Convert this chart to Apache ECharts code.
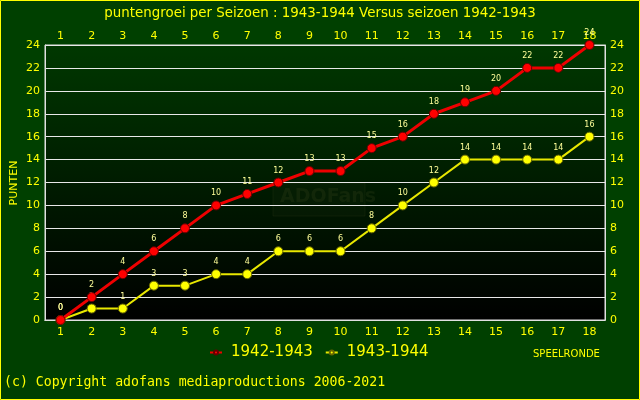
<!DOCTYPE html>
<html><head><meta charset="utf-8">
<script src="https://cdn.jsdelivr.net/npm/echarts@6/dist/echarts.min.js"></script>
<style>html,body{margin:0;padding:0;background:#004000}#c{width:640px;height:400px}</style>
</head><body><div id="c"></div>
<script>
const rounds = ['1','2','3','4','5','6','7','8','9','10','11','12','13','14','15','16','17','18'];
const s4243 = [0,2,4,6,8,10,11,12,13,13,15,16,18,19,20,22,22,24];
const s4344 = [0,1,1,3,3,4,4,6,6,6,8,10,12,14,14,14,14,16];
const name4243 = '1942-1943';
const name4344 = '1943-1944';
const yName = 'PUNTEN';

const chart = echarts.init(document.getElementById('c'), null, {renderer:'canvas'});
const yel = '#ffff00';
const lbl = {show:true, position:'top', distance:3, color:'#ffff99', fontSize:8, fontFamily:'DejaVu Sans'};
chart.setOption({
  animation:false,
  backgroundColor:'#004000',
  title:{text:'puntengroei per Seizoen : 1943-1944 Versus seizoen 1942-1943', left:'center', top:2,
    textStyle:{color:yel, fontSize:13.4, fontWeight:'normal', fontFamily:'DejaVu Sans'}},
  grid:{left:45, right:35, top:45, bottom:80, outerBoundsMode:'none', containLabel:false, show:true, borderColor:'#e0e0e0', borderWidth:1,
    backgroundColor:{type:'linear', x:0, y:0, x2:0, y2:1, colorStops:[{offset:0,color:'#003800'},{offset:1,color:'#000000'}]}},
  legend:{top:345, left:209, padding:0, itemGap:12, itemWidth:12, itemHeight:5,
    textStyle:{color:yel, fontSize:15, fontFamily:'DejaVu Sans', padding:[0,0,0,4]},
    data:[name4243, name4344]},
  xAxis:[
    {type:'category', data:rounds, position:'bottom', axisLine:{show:true, lineStyle:{color:'#e0e0e0'}}, axisTick:{show:false},
     axisLabel:{color:yel, fontSize:11, fontFamily:'DejaVu Sans', margin:7}},
    {type:'category', data:rounds, position:'top', axisLine:{show:true, lineStyle:{color:'#e0e0e0'}}, axisTick:{show:false},
     axisLabel:{color:yel, fontSize:11, fontFamily:'DejaVu Sans', margin:3}}
  ],
  yAxis:[
    {type:'value', min:0, max:24, interval:2, position:'left',
     axisLine:{show:true, lineStyle:{color:'#e0e0e0'}}, axisTick:{show:false},
     axisLabel:{color:yel, fontSize:11, fontFamily:'DejaVu Sans', margin:5},
     splitLine:{show:true, lineStyle:{color:'#e8e8e8', width:1}}},
    {type:'value', min:0, max:24, interval:2, position:'right',
     axisLine:{show:true, lineStyle:{color:'#e0e0e0'}}, axisTick:{show:false},
     axisLabel:{color:yel, fontSize:11, fontFamily:'DejaVu Sans', margin:5},
     splitLine:{show:false}}
  ],
  graphic:[
    {type:'rect', shape:{x:0.5, y:0.5, width:639, height:399}, style:{fill:'none', stroke:'#ffff00', lineWidth:1}, z:100},
    {type:'text', x:14, y:183, rotation:Math.PI/2, style:{text:yName, fill:yel, font:'11px DejaVu Sans', align:'center', verticalAlign:'middle'}},
    {type:'text', left:533, top:349, style:{text:'SPEELRONDE', fill:yel, font:'10px DejaVu Sans'}},
    {type:'text', left:4, top:376, style:{text:'(c) Copyright adofans mediaproductions 2006-2021', fill:yel, font:'13.2px "DejaVu Sans Mono"'}},
    {type:'rect', shape:{x:273, y:183, width:92, height:33}, style:{fill:'rgba(128,128,64,0.04)', stroke:'rgba(128,128,64,0.1)', lineWidth:1}},
    {type:'text', left:280, top:188, style:{text:'ADOFans', fill:'rgba(128,128,64,0.11)', font:'bold 19px DejaVu Sans'}}
  ],
  series:[
    {name:name4243, type:'line', data:s4243, xAxisIndex:0, yAxisIndex:0, symbol:'circle', symbolSize:9,
     lineStyle:{color:'#ee0000', width:3}, itemStyle:{color:'#ff0000', borderColor:'#660000', borderWidth:1},
     label:lbl, z:3},
    {name:name4344, type:'line', data:s4344, xAxisIndex:0, yAxisIndex:0, symbol:'circle', symbolSize:9,
     lineStyle:{color:'#e8e800', width:2}, itemStyle:{color:'#ffff00', borderColor:'#666600', borderWidth:1},
     label:lbl, z:2}
  ]
});
</script></body></html>
